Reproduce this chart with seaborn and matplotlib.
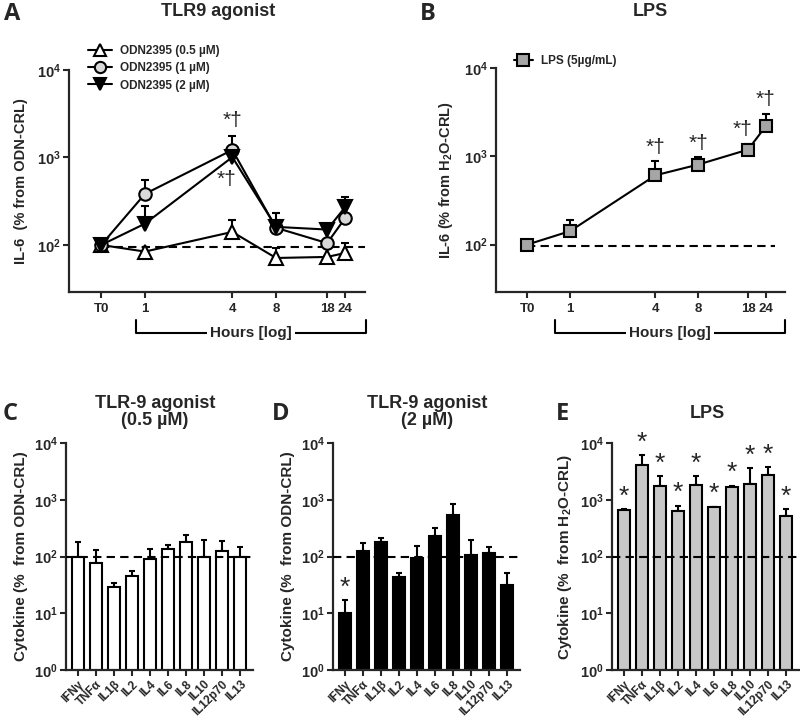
import numpy as np
import pandas as pd
import matplotlib
matplotlib.use('Agg')
import matplotlib.pyplot as plt
import seaborn as sns
from matplotlib.lines import Line2D
from matplotlib.ticker import FixedLocator, NullLocator, FixedFormatter

# time course (hours, T0 drawn at 0.5 h on the log axis)
hours = [0.5, 1, 4, 8, 18, 24]
hour_labels = ['T0', '1', '4', '8', '18', '24']

odn_05 = [100, 84, 141, 71, 73, 81]
odn_05_top = [100, 84, 193, 92, 73, 105]
odn_1 = [100, 383, 1220, 157, 105, 204]
odn_1_top = [100, 553, 1760, 232, 105, 204]
odn_2 = [100, 175, 1010, 161, 150, 272]
odn_2_top = [100, 279, 1010, 161, 150, 354]

lps = [100, 142, 609, 805, 1190, 2190]
lps_top = [100, 192, 877, 980, 1390, 3040]
lps_marked = [4, 8, 18, 24]

# cytokine panels
cytokines = ['IFNγ', 'TNFα', 'IL1β', 'IL2', 'IL4', 'IL6', 'IL8', 'IL10', 'IL12p70', 'IL13']
tlr_05 = [100, 77, 29, 46, 90, 138, 181, 100, 126, 100]
tlr_05_top = [178, 129, 34, 55, 138, 158, 236, 194, 188, 148]
tlr_2 = [10, 123, 182, 44, 93, 233, 542, 107, 115, 31]
tlr_2_top = [17, 172, 214, 51, 155, 318, 838, 192, 150, 51]
lps_cyt = [649, 4150, 1720, 640, 1840, 733, 1650, 1915, 2730, 508]
lps_cyt_top = [684, 6140, 2570, 783, 2570, 760, 1770, 3620, 3710, 684]

sns.set_style('ticks')
plt.rcParams['font.family'] = ['Liberation Sans', 'DejaVu Sans']
plt.rcParams['font.weight'] = 'bold'
plt.rcParams['axes.labelweight'] = 'bold'
plt.rcParams['mathtext.fontset'] = 'custom'
plt.rcParams['mathtext.rm'] = 'Liberation Sans:bold'
plt.rcParams['mathtext.bf'] = 'Liberation Sans:bold'
plt.rcParams['mathtext.it'] = 'Liberation Sans:bold'
plt.rcParams['mathtext.default'] = 'bf'

W, H = 800, 720
fig = plt.figure(figsize=(8, 7.2), dpi=100)


def px_axes(l, t, r, b):
    return fig.add_axes([l / W, 1 - b / H, (r - l) / W, (b - t) / H])


def style_axes(ax, ymin):
    ax.set_yscale('log')
    ax.set_ylim(ymin, 1e4)
    ax.yaxis.set_major_locator(FixedLocator([1, 10, 100, 1000, 10000]))
    ax.yaxis.set_major_formatter(FixedFormatter(['$10^{0}$', '$10^{1}$', '$10^{2}$', '$10^{3}$', '$10^{4}$']))
    ax.yaxis.set_minor_locator(NullLocator())
    sns.despine(ax=ax)
    for s in ['left', 'bottom']:
        ax.spines[s].set_linewidth(1.6)
    ax.tick_params(width=1.5, length=4, labelsize=10.5, pad=2)
    ax.set_facecolor('none')


def fig_line(xs, ys, **kw):
    fig.add_artist(Line2D([x / W for x in xs], [1 - y / H for y in ys], color='black', lw=1.5, **kw))


def time_panel(ax):
    ax.set_xscale('log')
    style_axes(ax, 29)
    ax.set_xlim(0.3, 32.8)
    ax.xaxis.set_major_locator(FixedLocator(hours))
    ax.xaxis.set_major_formatter(FixedFormatter(hour_labels))
    ax.xaxis.set_minor_locator(NullLocator())
    ax.tick_params(axis='x', labelsize=9.5, pad=4)


def err_up(ax, x, y, top, cap=3, z=1):
    lo = np.zeros(len(y))
    hi = np.array(top) - np.array(y)
    ax.errorbar(x, y, yerr=[lo, hi], fmt='none', ecolor='black', elinewidth=1.5,
                capsize=cap, capthick=1.5, zorder=z)


# ---- A
axA = px_axes(69, 70, 365, 292)
time_panel(axA)
axA.plot([0.5, 32.8], [96, 96], ls='--', dashes=(4, 2.5), color='black', lw=1.5, zorder=0)
for y, top in [(odn_05, odn_05_top), (odn_1, odn_1_top), (odn_2, odn_2_top)]:
    err_up(axA, hours, y, top)
sns.lineplot(x=hours, y=odn_05, ax=axA, color='black', lw=1.5, marker='^', markersize=10,
             markerfacecolor='white', markeredgecolor='black', markeredgewidth=1.5,
             label='ODN2395 (0.5 µM)', zorder=3)
sns.lineplot(x=hours, y=odn_1, ax=axA, color='black', lw=1.5, marker='o', markersize=9,
             markerfacecolor='#d9d9d9', markeredgecolor='black', markeredgewidth=1.5,
             label='ODN2395 (1 µM)', zorder=3)
sns.lineplot(x=hours, y=odn_2, ax=axA, color='black', lw=1.5, marker='v', markersize=10,
             markerfacecolor='black', markeredgecolor='black', markeredgewidth=1.5,
             label='ODN2395 (2 µM)', zorder=3)
axA.annotate('*†', xy=(4, odn_1_top[2]), xytext=(0, 11), textcoords='offset points',
             ha='center', va='center', fontsize=15, fontweight='normal')
axA.annotate('*†', xy=(4, odn_2[2]), xytext=(-4, -16), textcoords='offset points',
             ha='center', va='center', fontsize=15, fontweight='normal')
axA.legend(loc='upper left', bbox_to_anchor=(88 / W, 1 - 45 / H), bbox_transform=fig.transFigure,
           frameon=False, fontsize=8.5, handlelength=2.0, handletextpad=0.7,
           labelspacing=0.45, borderpad=0, borderaxespad=0, markerscale=0.9)
axA.set_xlabel('')
axA.set_ylabel('IL-6  (% from ODN-CRL)', fontsize=10.5, labelpad=6)

# ---- B
axB = px_axes(496, 68, 785, 292)
time_panel(axB)
axB.plot([0.5, 27.7], [96, 96], ls='--', dashes=(4, 2.5), color='black', lw=1.5, zorder=0)
err_up(axB, hours, lps, lps_top)
sns.lineplot(x=hours, y=lps, ax=axB, color='black', lw=1.5, marker='s', markersize=8,
             markerfacecolor='#a6a6a6', markeredgecolor='black', markeredgewidth=1.5,
             label='LPS (5µg/mL)', zorder=3)
for h in lps_marked:
    i = hours.index(h)
    dx = -4 if h == 18 else 0
    axB.annotate('*†', xy=(h, lps_top[i]), xytext=(dx, 10), textcoords='offset points',
                 ha='center', va='center', fontsize=15, fontweight='normal')
axB.legend(loc='upper left', bbox_to_anchor=(514 / W, 1 - 55 / H), bbox_transform=fig.transFigure,
           frameon=False, fontsize=8.5, handlelength=1.6, handletextpad=0.7,
           borderpad=0, borderaxespad=0)
axB.set_xlabel('')
axB.set_ylabel('IL-6 (% from H$_2$O-CRL)', fontsize=10.5, labelpad=6)

# hours brackets
for l, r, cx in [(136, 366, 251), (555, 785, 670)]:
    fig_line([l, l, r, r], [320, 333, 333, 320])
    fig.text(cx / W, 1 - 333 / H, 'Hours [log]', ha='center', va='center', fontsize=11,
             bbox=dict(facecolor='white', edgecolor='none', pad=2))


# ---- C, D, E
def bar_panel(ax, vals, top, color, ylabel, stars=None):
    sns.barplot(x=cytokines, y=vals, ax=ax, color=color, saturation=1, width=0.63,
                edgecolor='black', linewidth=1.5, errorbar=None, zorder=2)
    style_axes(ax, 1)
    ax.set_xlim(-0.67, 9.72)
    err_up(ax, range(len(vals)), vals, top, cap=2.5, z=1)
    ax.axhline(100, ls='--', dashes=(4, 2.5), color='black', lw=1.5, zorder=3)
    ax.set_xticks(range(len(cytokines)))
    ax.set_xticklabels(cytokines, rotation=45, ha='right', rotation_mode='anchor', fontsize=8.5)
    ax.set_xlabel('')
    ax.set_ylabel(ylabel, fontsize=11, labelpad=4)
    if stars is not None:
        for i in stars:
            ax.annotate('*', xy=(i, top[i]), xytext=(0, 9), textcoords='offset points',
                        ha='center', va='center', fontsize=19, fontweight='normal')


axC = px_axes(66, 443, 253, 670)
bar_panel(axC, tlr_05, tlr_05_top, 'white', 'Cytokine (%  from ODN-CRL)')
axD = px_axes(333, 443, 520, 670)
bar_panel(axD, tlr_2, tlr_2_top, 'black', 'Cytokine (%  from ODN-CRL)', stars=[0])
axE = px_axes(612, 443, 799, 670)
bar_panel(axE, lps_cyt, lps_cyt_top, '#c8c8c8', 'Cytokine (%  from H$_2$O-CRL)',
          stars=range(len(cytokines)))

# titles and panel letters
titles = [(218, 12, 'TLR9 agonist'), (650, 12, 'LPS'),
          (155, 412, 'TLR-9 agonist\n(0.5 µM)'), (427, 412, 'TLR-9 agonist\n(2 µM)'),
          (707, 413, 'LPS')]
for x, y, t in titles:
    fig.text(x / W, 1 - y / H, t, ha='center', va='center', fontsize=13, linespacing=1.05)
letters = [(12, 14, 'A'), (428, 14, 'B'), (10, 414, 'C'), (281, 414, 'D'), (563, 414, 'E')]
for x, y, t in letters:
    fig.text(x / W, 1 - y / H, t, ha='center', va='center', fontsize=17,
             family=['Open Sans', 'DejaVu Sans'], fontweight='bold')

fig.savefig('out.png', dpi=100, facecolor='white')
